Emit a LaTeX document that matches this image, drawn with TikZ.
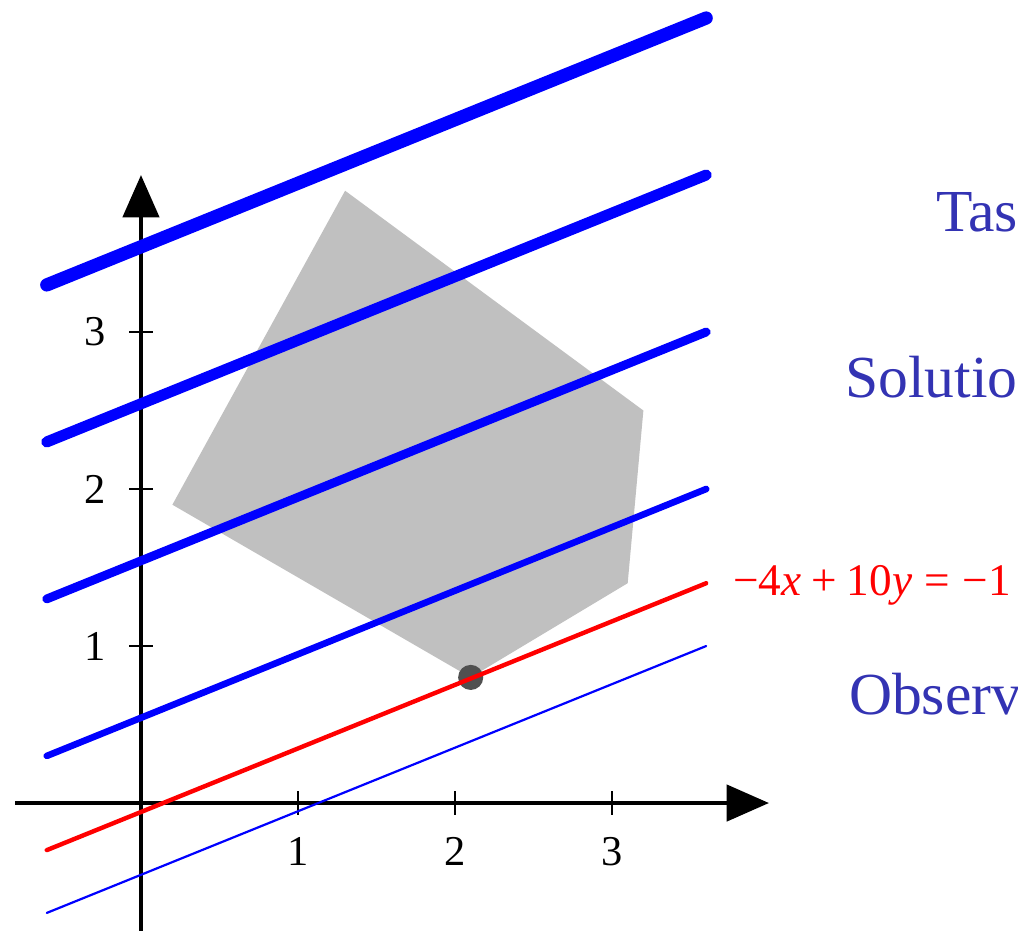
\documentclass[tikz,border=0pt]{standalone}
\usepackage{fontspec}
\setmainfont{Liberation Serif}
\usetikzlibrary{arrows.meta}
\definecolor{lblblue}{RGB}{51,51,179}
\definecolor{polygray}{RGB}{192,192,192}
\definecolor{dotgray}{RGB}{80,80,80}
\begin{document}
\begin{tikzpicture}[x=1cm,y=1cm,
  axisline/.style={line width=0.8pt, -{Triangle[length=0.27cm,width=0.23cm]}},
  tickmark/.style={line width=0.4pt},
  ticklabel/.style={font=\fontsize{7.7}{9}\selectfont, inner sep=0pt},
  level/.style={blue, line cap=round},
  caption/.style={anchor=base west, inner sep=0pt, text=lblblue, font=\fontsize{10.8}{13}\selectfont},
  eqlabel/.style={anchor=base west, inner sep=0pt, text=red, font=\fontsize{8.2}{10}\selectfont},
]
\useasboundingbox (-0.898,-0.815) rectangle (5.586,5.115);
% axes
\coordinate (xs) at (-0.8,0);
\coordinate (xe) at (4.0,0);
\coordinate (ys) at (0,-0.83);
\coordinate (ye) at (0,4.0);
\draw[axisline] (xs) -- (xe);
\draw[axisline] (ys) -- (ye);
\foreach \i in {1,2,3} {
  \draw[tickmark] (\i,-0.075) -- (\i,0.075);
  \node[ticklabel] (xl\i) at (\i,-0.31) {\i};
  \draw[tickmark] (-0.075,\i) -- (0.075,\i);
  \node[ticklabel] (yl\i) at (-0.29,\i) {\i};
}
% feasible region
\fill[polygray] (0.2,1.9) -- (1.3,3.9) -- (3.2,2.5) -- (3.1,1.4) -- (2.1,0.8) -- cycle;
% optimum
\fill[dotgray] (2.1,0.8) circle (0.08);
% level lines
\draw[level, line width=0.4pt] (-0.6,-0.7) -- (3.6,1.0);
\draw[red, line cap=round, line width=0.8pt] (-0.6,-0.3) -- (3.6,1.4);
\draw[level, line width=1.2pt] (-0.6,0.3) -- (3.6,2.0);
\draw[level, line width=1.6pt] (-0.6,1.3) -- (3.6,3.0);
\draw[level, line width=2.0pt] (-0.6,2.3) -- (3.6,4.0);
\draw[level, line width=2.4pt] (-0.6,3.3) -- (3.6,5.0);
% labels
\node[eqlabel] (eq) at (3.764,1.325) {−4\textit{x}\hspace{0.222em}+\hspace{0.222em}10\textit{y}\hspace{0.278em}=\hspace{0.278em}−1};
\node[caption] (task) at (5.057,3.643) {Tas};
\node[caption] (sol) at (4.478,2.580) {Solutio};
\node[caption] (obs) at (4.503,0.561) {Observ};
\end{tikzpicture}
\end{document}
